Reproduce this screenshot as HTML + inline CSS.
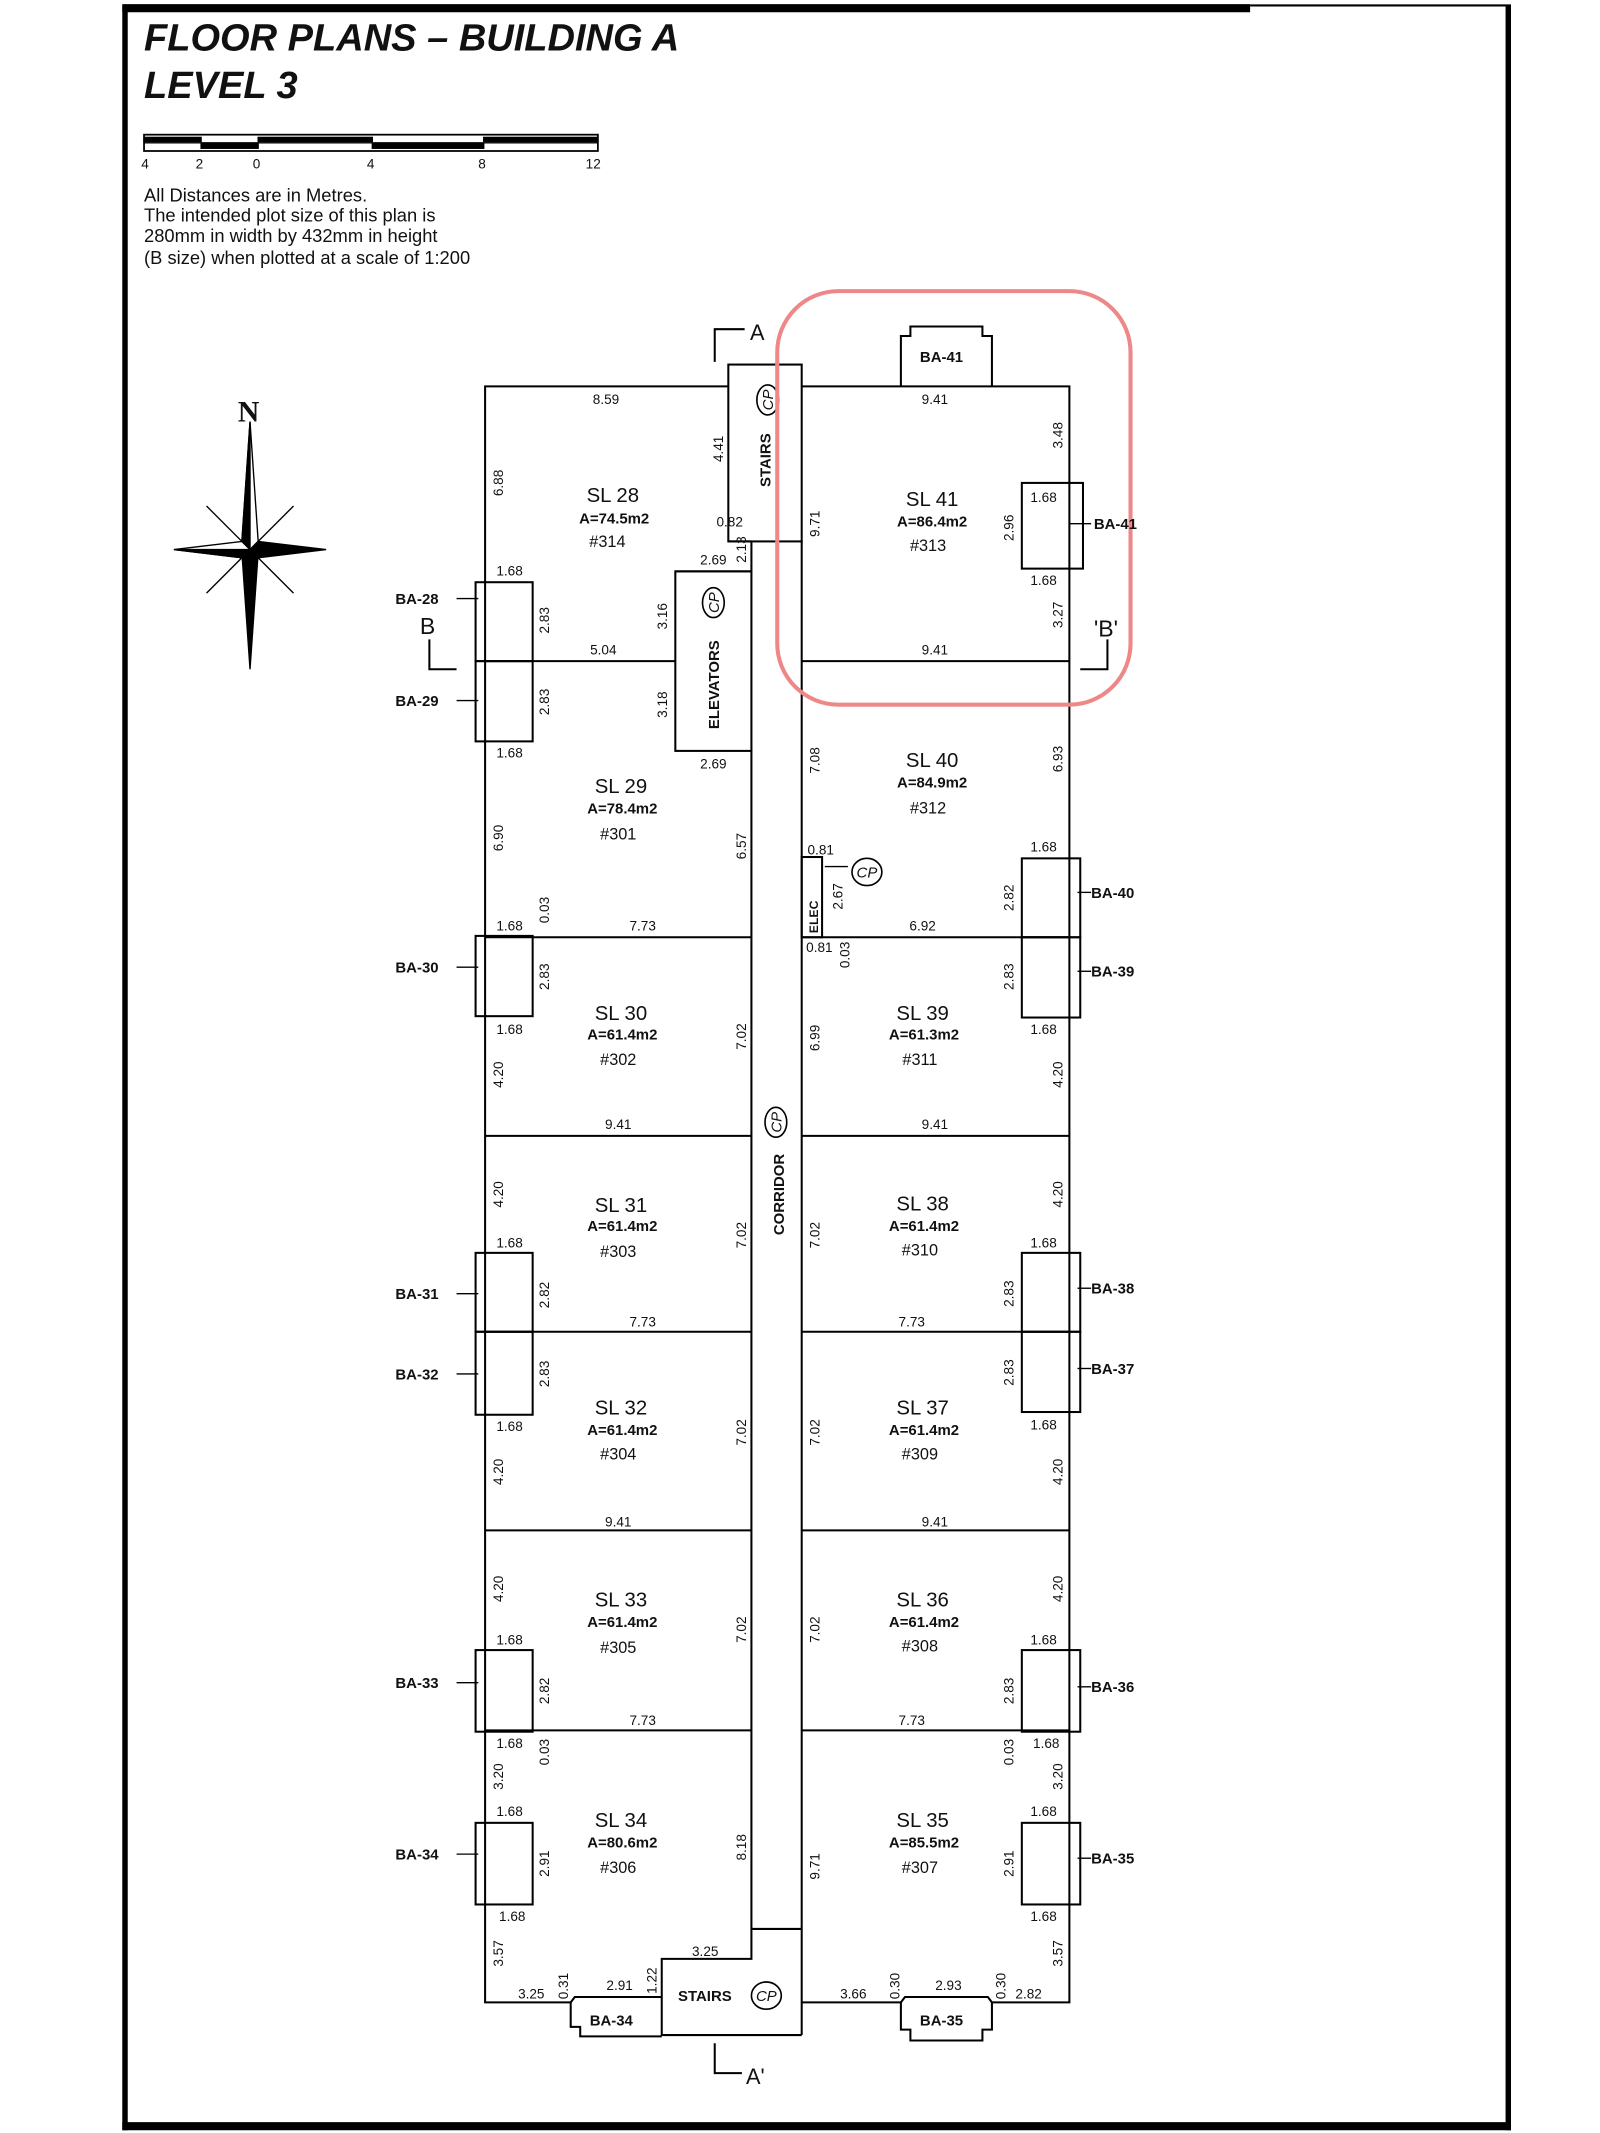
<!DOCTYPE html>
<html><head><meta charset="utf-8"><style>
html,body{margin:0;padding:0;background:#fff;}
svg{display:block}
text{font-family:"Liberation Sans Narrow","Liberation Sans",sans-serif;fill:#111}
.d{font-size:10px}
.s{font-family:"Liberation Serif",serif;font-size:15px}
.a{font-family:"Liberation Serif",serif;font-size:11px;font-weight:bold}
.b{font-family:"Liberation Serif",serif;font-size:11px;font-weight:bold}
</style></head><body>
<svg width="1600" height="2133" viewBox="0 0 1177.5 1568" preserveAspectRatio="none" xmlns="http://www.w3.org/2000/svg">
<g stroke="#000" fill="none">
<rect x="0" y="0" width="1180" height="1568" fill="#fff" stroke="none"/>
<line x1="92" y1="4" x2="92" y2="1566" stroke-width="4"/>
<line x1="90" y1="6" x2="920" y2="6" stroke-width="6"/>
<line x1="920" y1="4" x2="1112" y2="4" stroke-width="1.5"/>
<line x1="1110" y1="4" x2="1110" y2="1566" stroke-width="4"/>
<line x1="90" y1="1563" x2="1112" y2="1563" stroke-width="6"/>
<rect x="106" y="99" width="334" height="12" stroke-width="1.3"/>
<line x1="106" y1="105" x2="440" y2="105" stroke-width="1"/>
<rect x="106" y="101" width="42" height="3" fill="#000"/>
<rect x="148" y="106" width="42" height="3" fill="#000"/>
<rect x="190" y="101" width="84" height="3" fill="#000"/>
<rect x="274" y="106" width="82" height="3" fill="#000"/>
<rect x="356" y="101" width="84" height="3" fill="#000"/>
<g stroke-width="1.5">
<polyline points="536,284 357,284 357,1472 420,1472"/>
<polyline points="590,284 787,284 787,1472 730,1472"/>
<polyline points="590,1472 663,1472"/>
<rect x="536" y="268" width="54" height="130"/>
<line x1="536" y1="398" x2="553" y2="398"/>
<line x1="553" y1="398" x2="553" y2="420"/>
<line x1="497" y1="420" x2="553" y2="420"/>
<rect x="497" y="420" width="56" height="132"/>
<line x1="553" y1="552" x2="553" y2="1418"/>
<line x1="590" y1="398" x2="590" y2="1496"/>
<line x1="553" y1="1418" x2="590" y2="1418"/>
<polyline points="553,1418 553,1440 487,1440 487,1496 590,1496"/>
<line x1="357" y1="486" x2="497" y2="486"/>
<line x1="590" y1="486" x2="787" y2="486"/>
<line x1="357" y1="689" x2="553" y2="689"/>
<line x1="590" y1="689" x2="787" y2="689"/>
<rect x="590" y="630" width="15" height="59"/>
<line x1="357" y1="835" x2="553" y2="835"/>
<line x1="590" y1="835" x2="787" y2="835"/>
<line x1="357" y1="979" x2="553" y2="979"/>
<line x1="590" y1="979" x2="787" y2="979"/>
<line x1="357" y1="1125" x2="553" y2="1125"/>
<line x1="590" y1="1125" x2="787" y2="1125"/>
<line x1="357" y1="1272" x2="553" y2="1272"/>
<line x1="590" y1="1272" x2="787" y2="1272"/>
<polyline points="663,284 663,247 670,247 670,240 723,240 723,247 730,247 730,284"/>
<polyline points="420,1472 420,1490 427,1490 427,1497 487,1497"/>
<polyline points="420,1472 423,1468 487,1468"/>
<polyline points="663,1472 663,1492 670,1492 670,1500 723,1500 723,1492 730,1492 730,1472"/>
<polyline points="663,1472 666,1468 727,1468 730,1472"/>
<rect x="350" y="428" width="42" height="58"/>
<rect x="350" y="486" width="42" height="59"/>
<rect x="350" y="688" width="42" height="59"/>
<rect x="350" y="921" width="42" height="58"/>
<rect x="350" y="979" width="42" height="61"/>
<rect x="350" y="1213" width="42" height="60"/>
<rect x="350" y="1340" width="42" height="60"/>
<rect x="752" y="355" width="45" height="63"/>
<rect x="752" y="631" width="43" height="58"/>
<rect x="752" y="689" width="43" height="59"/>
<rect x="752" y="921" width="43" height="58"/>
<rect x="752" y="979" width="43" height="59"/>
<rect x="752" y="1213" width="43" height="60"/>
<rect x="752" y="1340" width="43" height="60"/>
</g>
<g stroke-width="1">
<line x1="336" y1="440" x2="352" y2="440"/><line x1="336" y1="515" x2="352" y2="515"/>
<line x1="336" y1="711" x2="352" y2="711"/><line x1="336" y1="951" x2="352" y2="951"/>
<line x1="336" y1="1010" x2="352" y2="1010"/><line x1="336" y1="1237" x2="352" y2="1237"/>
<line x1="336" y1="1363" x2="352" y2="1363"/>
<line x1="787" y1="385" x2="803" y2="385"/><line x1="793" y1="656" x2="803" y2="656"/>
<line x1="793" y1="714" x2="803" y2="714"/><line x1="793" y1="947" x2="803" y2="947"/>
<line x1="793" y1="1006" x2="803" y2="1006"/><line x1="793" y1="1240" x2="803" y2="1240"/>
<line x1="793" y1="1366" x2="803" y2="1366"/>
<line x1="607" y1="637" x2="624" y2="637"/>
<polyline points="526,266 526,242 548,242" stroke-width="1.5"/>
<polyline points="526,1502 526,1524 546,1524" stroke-width="1.5"/>
<polyline points="316,470 316,492 336,492" stroke-width="1.5"/>
<polyline points="815,470 815,492 795,492" stroke-width="1.5"/>
</g>
<g stroke-width="1.2">
<ellipse cx="565" cy="294" rx="8" ry="11"/>
<ellipse cx="525" cy="443" rx="8" ry="11"/>
<ellipse cx="638" cy="641" rx="11" ry="10"/>
<ellipse cx="571" cy="825" rx="8" ry="11"/>
<ellipse cx="564" cy="1467" rx="11" ry="10"/>
</g>
<g fill="#000" stroke="#000" stroke-width="1">
<polygon points="184,310 190,398 184,404 178,398" fill="#fff"/>
<polygon points="184,310 184,404 178,398"/>
<polygon points="184,492 178,406 184,404 190,406"/>
<polygon points="128,404 178,398 184,404 178,410" fill="#fff"/>
<polygon points="128,404 184,404 178,410"/>
<polygon points="240,404 190,410 184,404 190,398"/>
<polygon points="152,372 184,404 176,396" />
<polygon points="216,372 184,404 192,396" fill="#fff"/>
<polygon points="152,436 184,404 176,412" fill="#fff"/>
<polygon points="216,436 184,404 192,412"/>
</g>
<rect x="572" y="214" width="260" height="304" rx="45" ry="45" stroke="#e88" stroke-width="3"/>
</g>
<text x="106" y="37" style="font-family:'Liberation Sans Narrow','Liberation Sans',sans-serif;font-style:italic;font-weight:bold;font-size:28px">FLOOR PLANS – BUILDING A</text>
<text x="106" y="72" style="font-family:'Liberation Sans Narrow','Liberation Sans',sans-serif;font-style:italic;font-weight:bold;font-size:28px">LEVEL 3</text>
<g class="d"><text x="104" y="124">4</text><text x="144" y="124">2</text><text x="186" y="124">0</text><text x="270" y="124">4</text><text x="352" y="124">8</text><text x="431" y="124">12</text></g>
<g style="font-size:13.5px">
<text x="106" y="148">All Distances are in Metres.</text>
<text x="106" y="163">The intended plot size of this plan is</text>
<text x="106" y="178">280mm in width by 432mm in height</text>
<text x="106" y="194">(B size) when plotted at a scale of 1:200</text>
</g>
<text x="175" y="310" style="font-family:'Liberation Serif',serif;font-weight:bold;font-size:22px">N</text>
<text x="552" y="250" style="font-size:16px">A</text>
<text x="549" y="1532" style="font-size:16px">A'</text>
<text x="309" y="466" style="font-size:17px">B</text>
<text x="805" y="468" style="font-size:17px">'B'</text>
<g class="s" text-anchor="middle">
<text x="451" y="369">SL 28</text><text x="686" y="372">SL 41</text>
<text x="457" y="583">SL 29</text><text x="686" y="564">SL 40</text>
<text x="457" y="750">SL 30</text><text x="679" y="750">SL 39</text>
<text x="457" y="891">SL 31</text><text x="679" y="890">SL 38</text>
<text x="457" y="1040">SL 32</text><text x="679" y="1040">SL 37</text>
<text x="457" y="1181">SL 33</text><text x="679" y="1181">SL 36</text>
<text x="457" y="1343">SL 34</text><text x="679" y="1343">SL 35</text>
</g>
<g class="a" text-anchor="middle">
<text x="452" y="385">A=74.5m2</text><text x="686" y="387">A=86.4m2</text>
<text x="458" y="598">A=78.4m2</text><text x="686" y="579">A=84.9m2</text>
<text x="458" y="764">A=61.4m2</text><text x="680" y="764">A=61.3m2</text>
<text x="458" y="905">A=61.4m2</text><text x="680" y="905">A=61.4m2</text>
<text x="458" y="1055">A=61.4m2</text><text x="680" y="1055">A=61.4m2</text>
<text x="458" y="1196">A=61.4m2</text><text x="680" y="1196">A=61.4m2</text>
<text x="458" y="1358">A=80.6m2</text><text x="680" y="1358">A=85.5m2</text>
</g>
<g class="d" text-anchor="middle" style="font-size:12px">
<text x="447" y="402">#314</text><text x="683" y="405">#313</text>
<text x="455" y="617">#301</text><text x="683" y="598">#312</text>
<text x="455" y="783">#302</text><text x="677" y="783">#311</text>
<text x="455" y="924">#303</text><text x="677" y="923">#310</text>
<text x="455" y="1073">#304</text><text x="677" y="1073">#309</text>
<text x="455" y="1215">#305</text><text x="677" y="1214">#308</text>
<text x="455" y="1377">#306</text><text x="677" y="1377">#307</text>
</g>
<g class="b">
<text x="677" y="266">BA-41</text>
<text x="291" y="444">BA-28</text><text x="291" y="519">BA-29</text><text x="291" y="715">BA-30</text>
<text x="291" y="955">BA-31</text><text x="291" y="1014">BA-32</text><text x="291" y="1241">BA-33</text>
<text x="291" y="1367">BA-34</text>
<text x="805" y="389">BA-41</text><text x="803" y="660">BA-40</text><text x="803" y="718">BA-39</text>
<text x="803" y="951">BA-38</text><text x="803" y="1010">BA-37</text><text x="803" y="1244">BA-36</text>
<text x="803" y="1370">BA-35</text>
<text x="434" y="1489">BA-34</text><text x="677" y="1489">BA-35</text>
<text x="499" y="1471">STAIRS</text>
<text transform="translate(567,358) rotate(-90)">STAIRS</text>
<text transform="translate(529,536) rotate(-90)">ELEVATORS</text>
<text transform="translate(602,686) rotate(-90)" style="font-size:9px">ELEC</text>
<text transform="translate(577,908) rotate(-90)">CORRIDOR</text>
</g>
<g style="font-family:'Liberation Serif',serif;font-style:italic;font-size:11px" text-anchor="middle">
<text transform="translate(569,294) rotate(-90)">CP</text>
<text transform="translate(529,443) rotate(-90)">CP</text>
<text x="638" y="645">CP</text>
<text transform="translate(575,825) rotate(-90)">CP</text>
<text x="564" y="1471">CP</text>
</g>
<g class="d" text-anchor="middle">
<text x="446" y="297">8.59</text><text x="688" y="297">9.41</text>
<text x="537" y="387">0.82</text><text x="525" y="415">2.69</text>
<text x="375" y="423">1.68</text><text x="444" y="481">5.04</text><text x="688" y="481">9.41</text>
<text x="768" y="369">1.68</text><text x="768" y="430">1.68</text>
<text x="375" y="557">1.68</text><text x="525" y="565">2.69</text>
<text x="604" y="628">0.81</text><text x="768" y="626">1.68</text>
<text x="375" y="684">1.68</text><text x="473" y="684">7.73</text><text x="679" y="684">6.92</text>
<text x="603" y="700">0.81</text>
<text x="375" y="760">1.68</text><text x="768" y="760">1.68</text>
<text x="455" y="830">9.41</text><text x="688" y="830">9.41</text>
<text x="375" y="917">1.68</text><text x="768" y="917">1.68</text>
<text x="473" y="975">7.73</text><text x="671" y="975">7.73</text>
<text x="375" y="1052">1.68</text><text x="768" y="1051">1.68</text>
<text x="455" y="1122">9.41</text><text x="688" y="1122">9.41</text>
<text x="375" y="1209">1.68</text><text x="768" y="1209">1.68</text>
<text x="473" y="1268">7.73</text><text x="671" y="1268">7.73</text>
<text x="375" y="1285">1.68</text><text x="770" y="1285">1.68</text>
<text x="375" y="1335">1.68</text><text x="768" y="1335">1.68</text>
<text x="377" y="1412">1.68</text><text x="768" y="1412">1.68</text>
<text x="519" y="1438">3.25</text>
<text x="391" y="1469">3.25</text><text x="456" y="1463">2.91</text>
<text x="628" y="1469">3.66</text><text x="698" y="1463">2.93</text><text x="757" y="1469">2.82</text>
</g>
<g class="d" text-anchor="middle">
<text transform="translate(370,355) rotate(-90)">6.88</text>
<text transform="translate(532,330) rotate(-90)">4.41</text>
<text transform="translate(549,404) rotate(-90)">2.13</text>
<text transform="translate(603,385) rotate(-90)">9.71</text>
<text transform="translate(782,320) rotate(-90)">3.48</text>
<text transform="translate(746,388) rotate(-90)">2.96</text>
<text transform="translate(782,452) rotate(-90)">3.27</text>
<text transform="translate(404,456) rotate(-90)">2.83</text>
<text transform="translate(491,453) rotate(-90)">3.16</text>
<text transform="translate(404,516) rotate(-90)">2.83</text>
<text transform="translate(491,518) rotate(-90)">3.18</text>
<text transform="translate(603,559) rotate(-90)">7.08</text>
<text transform="translate(782,558) rotate(-90)">6.93</text>
<text transform="translate(370,616) rotate(-90)">6.90</text>
<text transform="translate(549,622) rotate(-90)">6.57</text>
<text transform="translate(620,659) rotate(-90)">2.67</text>
<text transform="translate(746,660) rotate(-90)">2.82</text>
<text transform="translate(404,669) rotate(-90)">0.03</text>
<text transform="translate(625,702) rotate(-90)">0.03</text>
<text transform="translate(404,718) rotate(-90)">2.83</text>
<text transform="translate(746,718) rotate(-90)">2.83</text>
<text transform="translate(549,762) rotate(-90)">7.02</text>
<text transform="translate(603,763) rotate(-90)">6.99</text>
<text transform="translate(370,790) rotate(-90)">4.20</text>
<text transform="translate(782,790) rotate(-90)">4.20</text>
<text transform="translate(370,878) rotate(-90)">4.20</text>
<text transform="translate(782,878) rotate(-90)">4.20</text>
<text transform="translate(549,908) rotate(-90)">7.02</text>
<text transform="translate(603,908) rotate(-90)">7.02</text>
<text transform="translate(404,952) rotate(-90)">2.82</text>
<text transform="translate(746,951) rotate(-90)">2.83</text>
<text transform="translate(404,1010) rotate(-90)">2.83</text>
<text transform="translate(746,1009) rotate(-90)">2.83</text>
<text transform="translate(549,1053) rotate(-90)">7.02</text>
<text transform="translate(603,1053) rotate(-90)">7.02</text>
<text transform="translate(370,1082) rotate(-90)">4.20</text>
<text transform="translate(782,1082) rotate(-90)">4.20</text>
<text transform="translate(370,1168) rotate(-90)">4.20</text>
<text transform="translate(782,1168) rotate(-90)">4.20</text>
<text transform="translate(549,1198) rotate(-90)">7.02</text>
<text transform="translate(603,1198) rotate(-90)">7.02</text>
<text transform="translate(404,1243) rotate(-90)">2.82</text>
<text transform="translate(746,1243) rotate(-90)">2.83</text>
<text transform="translate(404,1288) rotate(-90)">0.03</text>
<text transform="translate(746,1288) rotate(-90)">0.03</text>
<text transform="translate(370,1306) rotate(-90)">3.20</text>
<text transform="translate(782,1306) rotate(-90)">3.20</text>
<text transform="translate(404,1370) rotate(-90)">2.91</text>
<text transform="translate(746,1370) rotate(-90)">2.91</text>
<text transform="translate(549,1358) rotate(-90)">8.18</text>
<text transform="translate(603,1372) rotate(-90)">9.71</text>
<text transform="translate(370,1436) rotate(-90)">3.57</text>
<text transform="translate(782,1436) rotate(-90)">3.57</text>
<text transform="translate(418,1460) rotate(-90)">0.31</text>
<text transform="translate(483,1456) rotate(-90)">1.22</text>
<text transform="translate(662,1460) rotate(-90)">0.30</text>
<text transform="translate(740,1460) rotate(-90)">0.30</text>
</g>
</svg>
</body></html>
